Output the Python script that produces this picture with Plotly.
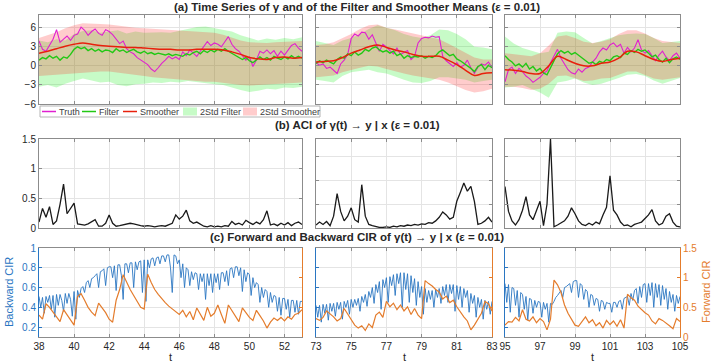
import numpy as np
import plotly.graph_objects as go

W, H = 714, 363

# ---------------- data ----------------
SPANS = [(38, 53), (73, 83), (95, 105)]

# (a) truth / filter on a 0.2 grid
truth_p1 = [3.9, 2.6, 2.3, 3.2, 4.2, 5.7, 3.7, 4.2, 4.7, 4.0,
            4.8, 5.0, 6.1, 5.6, 4.8, 5.4, 5.8, 5.1, 4.8, 5.7,
            5.4, 4.9, 4.2, 3.5, 3.9, 2.7, 2.2, 1.9, 1.3, 0.9,
            0.6, 0.2, -0.5, -0.9, -0.3, 0.4, 0.9, 1.5, 1.1, 1.4,
            1.0, 2.2, 1.6, 2.5, 2.0, 1.5, 2.3, 3.0, 3.8, 3.2,
            3.6, 3.4, 3.0, 3.8, 4.6, 3.4, 2.7, 2.3, 1.6, 0.9,
            1.4, -0.1, 0.9, 2.3, 2.0, 2.5, 1.9, 2.4, 1.5, 2.3,
            1.7, 2.4, 3.2, 3.5, 2.8, 2.3]
truth_p2 = [0.5, 0.1, 0.3, -0.4, -0.2, -0.7, -1.2, 0.3, 0.9, 1.8,
            4.3, 5.0, 4.7, 5.3, 5.2, 4.2, 4.9, 3.6, 2.3, 3.4,
            3.0, 2.4, 1.9, 2.8, 1.8, 2.1, 2.4, 1.0, 1.5, 3.6,
            4.3, 4.5, 4.4, 4.7, 4.5, 4.6, 1.5, 0.8, 0.3, -0.1,
            0.5, -0.2, 0.1, 0.9, -0.3, -1.2, -0.2, 0.3, 0.1, 0.6,
            -0.3]
truth_p3 = [-2.5, -0.6, -0.2, -1.2, -0.4, -0.9, -1.6, -2.0, -2.6, -2.2,
            -1.8, -1.2, -0.8, 0.5, 1.6, 2.6, 1.2, 0.2, -0.6, -1.1,
            -1.3, -0.5, -1.0, -0.4, -0.2, 0.6, 1.2, 2.2, 2.8, 2.5,
            3.3, 3.6, 3.0, 3.4, 2.0, 2.9, 2.2, 2.8, 4.1, 2.5,
            2.0, 2.4, 1.5, 0.8, 1.7, 2.3, 1.4, 0.8, 1.6, 2.0,
            1.2]

filter_p1 = [0.9, 1.3, 1.1, 1.6, 1.2, 1.5, 0.9, 1.4, 1.2, 1.8,
             2.6, 3.0, 2.7, 2.9, 2.4, 2.7, 2.3, 2.6, 2.2, 2.5,
             2.4, 2.1, 2.7, 2.3, 2.5, 2.1, 2.4, 2.6, 2.2, 2.0,
             2.3, 1.9, 2.1, 1.8, 2.0, 1.9, 1.7, 1.9, 1.6, 1.8,
             1.7, 1.5, 1.9, 1.7, 2.1, 2.3, 1.9, 2.4, 2.1, 2.5,
             2.2, 2.6, 2.3, 2.7, 2.3, 2.0, 1.6, 1.4, 1.0, 1.3,
             0.8, 0.5, 0.9, 1.4, 1.0, 1.3, 0.9, 1.5, 1.2, 1.0,
             1.4, 1.1, 1.6, 1.2, 1.5, 1.2]
filter_p2 = [0.4, 0.8, 0.5, 0.9, 0.6, 0.3, 1.0, 1.4, 1.2, 1.9,
             1.6, 2.2, 1.7, 2.0, 2.6, 2.3, 2.8, 3.0, 2.5, 2.2,
             2.4, 2.0, 2.3, 1.6, 1.9, 1.2, 1.6, 1.3, 1.5, 1.4,
             1.6, 1.2, 1.5, 1.3, 1.6, 2.2, 2.5, 2.0, 1.6, 1.8,
             1.1, 0.8, 0.4, 0.1, -0.4, -0.9, -0.1, 0.2, -0.6, 0.1,
             -0.3]
filter_p3 = [1.6, 1.0, 0.6, 0.0, 0.3, -0.2, 0.4, -0.5, -0.1, -0.8,
             -0.4, -1.1, -1.4, -0.3, 0.8, 1.9, 2.4, 2.0, 2.3, 1.8,
             2.1, 1.7, 1.3, 0.8, 0.4, 0.6, 0.2, 0.7, 0.5, 1.0,
             0.8, 1.4, 1.6, 1.3, 2.0, 1.8, 2.4, 2.1, 2.6, 2.3,
             2.5, 2.0, 1.4, 1.7, 1.0, 0.6, 1.2, 0.5, 1.1, 1.4,
             1.0]

# (a) smoother mean and the two 2-std bands on a 0.5 grid
smoother_p1 = [2.0, 2.3, 2.7, 3.1, 3.4, 3.6, 3.4, 3.2, 3.1, 3.0, 2.9, 2.9, 2.8, 2.7, 2.6, 2.6,
               2.5, 2.5, 2.6, 2.6, 2.6, 2.5, 2.2, 1.8, 1.3, 1.1, 1.0, 1.3, 1.4, 1.2, 1.3]
smoother_p2 = [0.6, 0.7, 0.8, 1.3, 2.0, 2.5, 3.0, 3.3, 2.9, 2.5, 2.2, 1.8, 1.5, 1.5, 1.5, 0.9,
               0.2, -0.7, -1.5, -1.2, -1.1]
smoother_p3 = [-0.6, -0.7, -0.9, -1.2, -1.2, 0.0, 1.5, 1.0, 0.4, 0.0, 0.0, 0.4, 0.6, 1.2, 2.3, 2.2,
               1.6, 1.0, 0.7, 1.0, 1.2]

smo_hi_p1 = [4.4, 4.8, 5.3, 5.9, 6.4, 6.7, 6.7, 6.6, 6.5, 6.3, 6.2, 6.0, 5.9, 5.8, 5.7, 5.6,
             5.5, 5.4, 5.4, 5.3, 5.2, 4.9, 4.4, 4.0, 3.7, 3.6, 3.6, 3.7, 3.8, 3.8, 3.9]
smo_lo_p1 = [-1.6, -1.5, -1.4, -1.3, -1.2, -1.1, -1.0, -0.9, -0.9, -1.0, -1.2, -1.4, -1.6, -1.8,
             -1.9, -2.0, -2.1, -2.3, -2.4, -2.5, -2.5, -2.6, -2.8, -3.0, -3.1, -3.1, -3.0, -2.9,
             -2.8, -2.7, -2.6]
smo_hi_p2 = [3.3, 3.4, 3.7, 4.3, 5.0, 5.8, 6.4, 6.5, 6.0, 5.7, 5.4, 5.1, 4.8, 4.5, 4.2, 3.5,
             2.8, 2.0, 1.3, 1.0, 1.0]
smo_lo_p2 = [-1.8, -1.7, -1.5, -1.0, -0.6, -0.3, 0.0, -0.1, -0.5, -0.9, -1.2, -1.5, -1.8, -2.0,
             -2.2, -2.6, -3.2, -3.8, -4.2, -4.0, -3.6]
smo_hi_p3 = [2.0, 1.8, 1.6, 1.5, 2.0, 3.2, 4.6, 4.8, 4.4, 3.8, 3.6, 3.8, 4.2, 5.0, 5.6, 5.6,
             5.1, 4.4, 3.9, 3.7, 3.6]
smo_lo_p3 = [-3.3, -3.3, -3.5, -3.8, -3.6, -2.8, -1.6, -1.5, -1.9, -2.4, -2.3, -2.0, -1.9, -1.4,
             -0.9, -0.9, -1.4, -2.0, -2.2, -2.0, -1.8]

fil_hi_p1 = [4.0, 3.7, 4.2, 4.0, 5.0, 5.5, 5.6, 5.2, 5.4, 5.6, 5.1, 5.4, 5.2, 5.3, 5.3, 5.2,
             5.5, 5.9, 6.1, 6.2, 5.9, 5.6, 5.4, 4.8, 4.4, 4.0, 4.3, 4.1, 4.4, 4.2, 4.5]
fil_lo_p1 = [-3.3, -3.0, -3.4, -2.8, -2.4, -2.0, -2.3, -2.6, -2.5, -3.0, -3.2, -2.9, -2.8, -2.6,
             -2.7, -2.5, -2.6, -2.4, -2.6, -2.7, -2.9, -3.0, -3.4, -3.8, -4.1, -3.9, -3.6, -3.7,
             -3.4, -3.5, -3.3]
fil_hi_p2 = [3.9, 3.6, 3.3, 4.0, 4.4, 5.0, 5.8, 6.4, 6.0, 5.6, 5.0, 4.6, 4.4, 4.8, 5.7, 5.6,
             5.0, 4.2, 3.0, 2.9, 2.6]
fil_lo_p2 = [-2.2, -2.4, -2.6, -1.6, -1.0, -0.8, -0.6, -1.0, -1.2, -1.7, -2.2, -2.6, -2.7, -2.4,
             -1.8, -1.8, -2.0, -2.2, -2.6, -2.4, -2.2]
fil_hi_p3 = [4.6, 3.5, 2.8, 2.4, 2.0, 2.2, 5.2, 5.4, 5.3, 4.4, 3.5, 3.9, 4.4, 4.8, 5.0, 5.1,
             5.0, 4.4, 3.6, 3.8, 3.9]
fil_lo_p3 = [-3.4, -3.3, -3.0, -3.6, -4.2, -5.0, -2.6, -2.4, -2.0, -2.6, -3.0, -2.8, -2.3, -1.9,
             -1.4, -1.3, -1.6, -2.3, -2.8, -2.3, -1.9]

# (b) ACI on a 0.2 grid
aci_p1 = [0.10, 0.33, 0.18, 0.36, 0.06, 0.12, 0.40, 0.74, 0.24, 0.32,
          0.42, 0.07, 0.06, 0.05, 0.07, 0.10, 0.14, 0.03, 0.03, 0.08,
          0.22, 0.08, 0.03, 0.04, 0.05, 0.06, 0.08, 0.07, 0.05, 0.04,
          0.03, 0.04, 0.03, 0.02, 0.03, 0.04, 0.03, 0.05, 0.08, 0.22,
          0.15, 0.20, 0.30, 0.12, 0.08, 0.10, 0.06, 0.03, 0.02, 0.04,
          0.02, 0.03, 0.02, 0.04, 0.03, 0.11, 0.06, 0.08, 0.05, 0.13,
          0.09, 0.06, 0.10, 0.07, 0.14, 0.29, 0.05, 0.07, 0.04, 0.08,
          0.05, 0.09, 0.04, 0.08, 0.10, 0.06]
aci_p2 = [0.05, 0.10, 0.06, 0.11, 0.04, 0.20, 0.58, 0.28, 0.12, 0.20,
          0.34, 0.14, 0.10, 0.73, 0.20, 0.06, 0.04, 0.02, 0.01, 0.01,
          0.02, 0.01, 0.03, 0.02, 0.04, 0.03, 0.05, 0.04, 0.06, 0.05,
          0.07, 0.06, 0.09, 0.08, 0.12, 0.18, 0.27, 0.22, 0.15, 0.18,
          0.45, 0.60, 0.76, 0.62, 0.70, 0.45, 0.06, 0.08, 0.12, 0.18,
          0.10]
aci_p3 = [0.70, 0.28, 0.12, 0.05, 0.14, 0.30, 0.53, 0.22, 0.14, 0.30,
          0.45, 0.04, 0.40, 1.50, 0.02, 0.05, 0.08, 0.12, 0.20, 0.34,
          0.24, 0.12, 0.06, 0.04, 0.08, 0.05, 0.10, 0.07, 0.22, 0.35,
          0.88, 0.30, 0.22, 0.10, 0.04, 0.05, 0.02, 0.06, 0.08, 0.10,
          0.16, 0.22, 0.31, 0.12, 0.05, 0.08, 0.20, 0.24, 0.10, 0.03,
          0.02]

# (c) backward CIR on a 0.1 grid, forward CIR on a 0.2 grid
bcir_p1 = [0.51, 0.40, 0.50, 0.34, 0.51, 0.45, 0.52, 0.38, 0.52, 0.30,
           0.53, 0.42, 0.53, 0.47, 0.36, 0.54, 0.44, 0.54, 0.48, 0.31,
           0.56, 0.28, 0.57, 0.50, 0.59, 0.61, 0.55, 0.65, 0.67, 0.60,
           0.69, 0.70, 0.72, 0.74, 0.60, 0.76, 0.77, 0.79, 0.62, 0.80,
           0.81, 0.81, 0.70, 0.82, 0.57, 0.83, 0.83, 0.72, 0.48, 0.84,
           0.84, 0.75, 0.85, 0.85, 0.60, 0.86, 0.78, 0.86, 0.87, 0.55,
           0.88, 0.46, 0.88, 0.80, 0.89, 0.90, 0.82, 0.90, 0.91, 0.84,
           0.92, 0.92, 0.86, 0.93, 0.93, 0.80, 0.55, 0.93, 0.92, 0.84,
           0.88, 0.70, 0.84, 0.60, 0.80, 0.78, 0.62, 0.76, 0.68, 0.75,
           0.74, 0.58, 0.74, 0.66, 0.74, 0.48, 0.74, 0.62, 0.74, 0.55,
           0.74, 0.65, 0.74, 0.58, 0.75, 0.75, 0.66, 0.77, 0.62, 0.79,
           0.80, 0.70, 0.81, 0.81, 0.72, 0.80, 0.56, 0.78, 0.66, 0.75,
           0.73, 0.52, 0.70, 0.60, 0.65, 0.63, 0.45, 0.60, 0.50, 0.58,
           0.56, 0.40, 0.55, 0.45, 0.52, 0.51, 0.36, 0.50, 0.32, 0.49,
           0.49, 0.38, 0.48, 0.30, 0.47, 0.47, 0.35, 0.47, 0.33, 0.46,
           0.46]
bcir_p2 = [0.42, 0.30, 0.42, 0.25, 0.43, 0.34, 0.43, 0.27, 0.44, 0.36,
           0.44, 0.31, 0.45, 0.38, 0.45, 0.28, 0.46, 0.40, 0.47, 0.33,
           0.48, 0.40, 0.48, 0.42, 0.49, 0.36, 0.51, 0.45, 0.53, 0.41,
           0.56, 0.50, 0.60, 0.44, 0.63, 0.55, 0.66, 0.38, 0.68, 0.60,
           0.70, 0.45, 0.71, 0.62, 0.73, 0.52, 0.74, 0.64, 0.75, 0.40,
           0.75, 0.58, 0.74, 0.45, 0.72, 0.55, 0.69, 0.42, 0.66, 0.50,
           0.61, 0.33, 0.59, 0.45, 0.57, 0.48, 0.57, 0.40, 0.58, 0.50,
           0.59, 0.44, 0.61, 0.52, 0.63, 0.45, 0.63, 0.54, 0.63, 0.36,
           0.62, 0.48, 0.61, 0.40, 0.59, 0.50, 0.57, 0.35, 0.54, 0.44,
           0.52, 0.30, 0.50, 0.40, 0.48, 0.28, 0.47, 0.38, 0.46, 0.33,
           0.46]
bcir_p3 = [0.64, 0.45, 0.63, 0.35, 0.60, 0.59, 0.42, 0.57, 0.30, 0.55,
           0.53, 0.38, 0.51, 0.27, 0.49, 0.48, 0.34, 0.47, 0.40, 0.46,
           0.45, 0.30, 0.45, 0.38, 0.44, 0.25, 0.44, 0.43, 0.46, 0.50,
           0.52, 0.55, 0.57, 0.50, 0.60, 0.61, 0.63, 0.64, 0.55, 0.66,
           0.67, 0.67, 0.50, 0.64, 0.62, 0.48, 0.58, 0.56, 0.40, 0.53,
           0.52, 0.42, 0.49, 0.48, 0.36, 0.47, 0.46, 0.38, 0.45, 0.44,
           0.44, 0.35, 0.45, 0.45, 0.40, 0.46, 0.47, 0.38, 0.49, 0.50,
           0.51, 0.42, 0.54, 0.47, 0.57, 0.59, 0.44, 0.61, 0.50, 0.63,
           0.64, 0.45, 0.64, 0.52, 0.65, 0.40, 0.64, 0.50, 0.63, 0.42,
           0.62, 0.48, 0.59, 0.38, 0.56, 0.45, 0.53, 0.36, 0.52, 0.44,
           0.51]

fcir_p1 = [0.37, 0.30, 0.56, 0.50, 0.42, 0.33, 0.26, 0.46, 0.38, 0.28,
           0.20, 0.68, 0.73, 0.62, 0.50, 0.42, 0.36, 0.57, 0.49, 0.41,
           0.30, 0.25, 0.62, 0.80, 1.05, 0.92, 0.80, 0.70, 0.60, 0.50,
           0.47, 1.06, 0.92, 0.80, 0.72, 0.64, 0.58, 0.52, 0.47, 0.42,
           0.38, 0.45, 0.34, 0.43, 0.29, 0.49, 0.38, 0.28, 0.50, 0.35,
           0.40, 0.54, 0.38, 0.23, 0.54, 0.45, 0.35, 0.26, 0.49, 0.40,
           0.33, 0.28, 0.45, 0.36, 0.27, 0.15, 0.25, 0.32, 0.28, 0.33,
           0.27, 0.34, 0.30, 0.38, 0.40, 0.46]
fcir_p2 = [0.31, 0.28, 0.33, 0.44, 0.39, 0.34, 0.27, 0.31, 0.48, 0.38,
           0.28, 0.20, 0.15, 0.19, 0.11, 0.22, 0.16, 0.37, 0.42, 0.33,
           0.60, 0.51, 0.57, 0.46, 0.54, 0.44, 0.51, 0.38, 0.48, 0.37,
           0.31, 0.95, 0.90, 0.86, 0.80, 0.76, 0.64, 0.69, 0.58, 0.62,
           0.51, 0.42, 0.34, 0.27, 0.12, 0.20, 0.30, 0.40, 0.60, 0.56,
           0.44]
fcir_p3 = [0.20, 0.26, 0.25, 0.33, 0.27, 0.46, 0.30, 0.27, 0.34, 0.24,
           0.31, 0.26, 0.12, 0.30, 0.96, 0.88, 0.75, 0.54, 0.40, 0.29,
           0.20, 0.18, 0.26, 0.34, 0.24, 0.29, 0.19, 0.24, 0.15, 0.28,
           0.21, 0.27, 0.18, 0.29, 0.15, 0.72, 0.66, 0.62, 0.52, 0.46,
           0.41, 0.37, 0.27, 0.22, 0.31, 0.28, 0.24, 0.19, 0.14, 0.31,
           0.26]

truth = [truth_p1, truth_p2, truth_p3]
filt = [filter_p1, filter_p2, filter_p3]
smoother = [smoother_p1, smoother_p2, smoother_p3]
smo_hi = [smo_hi_p1, smo_hi_p2, smo_hi_p3]
smo_lo = [smo_lo_p1, smo_lo_p2, smo_lo_p3]
fil_hi = [fil_hi_p1, fil_hi_p2, fil_hi_p3]
fil_lo = [fil_lo_p1, fil_lo_p2, fil_lo_p3]
aci = [aci_p1, aci_p2, aci_p3]
bcir = [bcir_p1, bcir_p2, bcir_p3]
fcir = [fcir_p1, fcir_p2, fcir_p3]

XTICKS = [list(range(38, 53, 2)), list(range(73, 84, 2)), list(range(95, 106, 2))]

# ---------------- styling ----------------
FONT = "Arial, Liberation Sans, sans-serif"
TXT = "#262626"
FRAME = "#8c8c8c"
GRID = "#e4e4e4"
C_TRUTH = "#e020d0"
C_FILTER = "#22c814"
C_SMOOTH = "#e8200c"
F_FILTER = "rgba(0,235,0,0.22)"
F_SMOOTH = "rgba(255,40,40,0.24)"
C_ACI = "#1a1a1a"
C_BACK = "#2a76c2"
C_FWD = "#e47c2c"

COLS = [(39, 302), (316, 492), (505, 680)]
ROWS = [(15, 104), (139, 228), (248, 337)]


def grid(a, b, step):
    return np.round(np.arange(a, b + step / 2, step), 2)


def px(x):
    return x / W


def py(y):
    return 1 - y / H


def sfx(i):
    return "" if i == 1 else str(i)


def label(text, x, y, size=10, color=TXT, xanchor="center", angle=0):
    return dict(text=text, x=px(x), y=py(y), xref="paper", yref="paper",
                xanchor=xanchor, yanchor="middle", textangle=angle, showarrow=False,
                borderpad=0, font=dict(size=size, color=color))


fig = go.Figure()
layout = {}

for r in range(3):
    for c in range(3):
        i = r * 3 + c + 1
        a, b = SPANS[c]
        layout["xaxis" + sfx(i)] = dict(
            domain=[px(COLS[c][0]), px(COLS[c][1])], anchor="y" + sfx(i),
            range=[a, b], tickvals=XTICKS[c], showticklabels=(r == 2), automargin=False,
            showgrid=True, gridcolor=GRID, gridwidth=1, zeroline=False,
            showline=True, linecolor=FRAME, linewidth=1, mirror="ticks",
            ticks="inside", ticklen=3, tickcolor=FRAME,
            tickfont=dict(size=10, color=TXT),
        )
        ydom = [py(ROWS[r][1]), py(ROWS[r][0])]
        if r == 0:
            ya = dict(range=[-6, 8], tickvals=[-6, -3, 0, 3, 6])
        elif r == 1:
            ya = dict(range=[0, 1.5],
                      tickvals=[0, 0.5, 1, 1.5] if c == 0 else [0, 0.4, 0.8, 1.2])
        else:
            ya = dict(range=[0.1, 1.0], tickvals=[0.2, 0.4, 0.6, 0.8, 1])
        ya.update(
            domain=ydom, anchor="x" + sfx(i), showticklabels=(c == 0), automargin=False,
            showgrid=True, gridcolor=GRID, zeroline=False,
            showline=True, linewidth=1, ticks="inside", ticklen=3,
            tickfont=dict(size=10, color=TXT),
        )
        if r < 2:
            ya.update(linecolor=FRAME, mirror="ticks", tickcolor=FRAME)
        else:
            ya.update(linecolor=C_BACK, mirror=False, tickcolor=C_BACK,
                      tickfont=dict(size=10, color=C_BACK))
            layout["yaxis" + str(9 + c + 1)] = dict(
                domain=ydom, anchor="x" + sfx(i), overlaying="y" + sfx(i), side="right",
                range=[0, 1.5], tickvals=[0, 0.5, 1, 1.5], showticklabels=(c == 2),
                automargin=False, showgrid=False, zeroline=False, showline=True,
                linewidth=1, linecolor=C_FWD, ticks="inside", ticklen=3, tickcolor=C_FWD,
                tickfont=dict(size=10, color=C_FWD),
            )
        layout["yaxis" + sfx(i)] = ya

# ---------------- traces ----------------
for c in range(3):
    a, b = SPANS[c]
    t2 = grid(a, b, 0.2)
    t5 = grid(a, b, 0.5)
    t1 = grid(a, b, 0.1)

    # row (a)
    i = c + 1
    xa, yax = "x" + sfx(i), "y" + sfx(i)
    poly_t = np.concatenate([t5, t5[::-1]])
    fig.add_trace(go.Scatter(
        x=poly_t, y=np.concatenate([fil_hi[c], fil_lo[c][::-1]]), fill="toself",
        fillcolor=F_FILTER, line=dict(width=0), mode="lines", showlegend=False,
        xaxis=xa, yaxis=yax, hoverinfo="skip"))
    fig.add_trace(go.Scatter(
        x=poly_t, y=np.concatenate([smo_hi[c], smo_lo[c][::-1]]), fill="toself",
        fillcolor=F_SMOOTH, line=dict(width=0), mode="lines", showlegend=False,
        xaxis=xa, yaxis=yax, hoverinfo="skip"))
    fig.add_trace(go.Scatter(x=t2, y=truth[c], mode="lines", showlegend=False,
                             line=dict(color=C_TRUTH, width=1.1), xaxis=xa, yaxis=yax))
    fig.add_trace(go.Scatter(x=t2, y=filt[c], mode="lines", showlegend=False,
                             line=dict(color=C_FILTER, width=1.4), xaxis=xa, yaxis=yax))
    fig.add_trace(go.Scatter(x=t5, y=smoother[c], mode="lines", showlegend=False,
                             line=dict(color=C_SMOOTH, width=1.5, shape="spline"),
                             xaxis=xa, yaxis=yax))

    # row (b)
    i = 3 + c + 1
    fig.add_trace(go.Scatter(x=t2, y=aci[c], mode="lines", showlegend=False,
                             line=dict(color=C_ACI, width=1.3),
                             xaxis="x" + sfx(i), yaxis="y" + sfx(i)))

    # row (c)
    i = 6 + c + 1
    fig.add_trace(go.Scatter(x=t1, y=bcir[c], mode="lines", showlegend=False,
                             line=dict(color=C_BACK, width=0.9),
                             xaxis="x" + sfx(i), yaxis="y" + sfx(i)))
    fig.add_trace(go.Scatter(x=t2, y=fcir[c], mode="lines", showlegend=False,
                             line=dict(color=C_FWD, width=1.2),
                             xaxis="x" + sfx(i), yaxis="y" + str(9 + c + 1)))

# ---------------- titles, labels, legend ----------------
ann = []
shapes = []
for text, y in [("(a) Time Series of γ and of the Filter and Smoother Means (ε = 0.01)", 7),
                ("(b) ACI of γ(t) → y | x (ε = 0.01)", 125),
                ("(c) Forward and Backward CIR of γ(t) → y | x (ε = 0.01)", 237)]:
    ann.append(label("<b>%s</b>" % text, 357, y, size=11.5))
for c in range(3):
    ann.append(label("t", (COLS[c][0] + COLS[c][1]) / 2, 357, size=11))
ann.append(label("Backward CIR", 9, 292, size=11, color=C_BACK, angle=-90))
ann.append(label("Forward CIR", 706, 292, size=11, color=C_FWD, angle=-90))

# compact MATLAB-style legend box under panel (a)
LEG_Y = 111.5
shapes.append(dict(type="rect", xref="paper", yref="paper", x0=px(40), x1=px(320),
                   y0=py(117), y1=py(106), line=dict(color="#b4b4b4", width=1),
                   fillcolor="white", layer="above"))
legend_items = [("Truth", "line", C_TRUTH, 42), ("Filter", "line", C_FILTER, 82),
                ("Smoother", "line", C_SMOOTH, 123), ("2Std Filter", "patch", F_FILTER, 183),
                ("2Std Smoother", "patch", F_SMOOTH, 243)]
for name, kind, col, x0 in legend_items:
    if kind == "line":
        shapes.append(dict(type="line", xref="paper", yref="paper", x0=px(x0), x1=px(x0 + 14),
                           y0=py(LEG_Y), y1=py(LEG_Y), line=dict(color=col, width=1.5),
                           layer="above"))
    else:
        shapes.append(dict(type="rect", xref="paper", yref="paper", x0=px(x0), x1=px(x0 + 14),
                           y0=py(LEG_Y + 4), y1=py(LEG_Y - 4), line=dict(width=0),
                           fillcolor=col, layer="above"))
    ann.append(label(name, x0 + 16, LEG_Y, size=9, color="#404040", xanchor="left"))

fig.update_layout(
    **layout,
    width=W, height=H,
    margin=dict(l=0, r=0, t=0, b=0, pad=0, autoexpand=False),
    paper_bgcolor="white", plot_bgcolor="white",
    font=dict(family=FONT, color=TXT),
    showlegend=False,
    annotations=ann, shapes=shapes,
)

# the page's default 8px body margin would push the figure off the window edges
fig.write_html("out.html", config={"displayModeBar": False},
               post_script="document.body.style.margin='0px';")
